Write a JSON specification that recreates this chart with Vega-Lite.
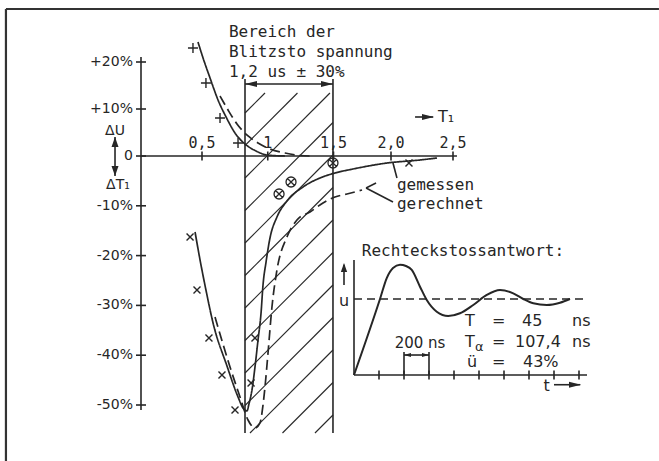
{
  "$schema": "https://vega.github.io/schema/vega-lite/v6.json",
  "width": 659,
  "height": 461,
  "padding": 0,
  "autosize": {"type": "none"},
  "background": "white",
  "config": {"view": {"stroke": null}},
  "datasets": {
    "frame": [
      {"x": -1.107, "y": 31.28, "x2": 4.161, "y2": 31.28},
      {"x": -1.107, "y": 31.28, "x2": -1.107, "y2": -61.24}
    ],
    "rulesMain": [
      {"x": 0, "y": 0, "x2": 2.532, "y2": 0},
      {"x": 0, "y": 21.06, "x2": 0, "y2": -51.0},
      {"x": 0.827, "y": 16.38, "x2": 0.827, "y2": -55.62},
      {"x": 1.496, "y": 16.38, "x2": 1.496, "y2": -55.62},
      {"x": 0.827, "y": 15.32, "x2": 1.496, "y2": 15.32},
      {"x": -0.213, "y": 4.04, "x2": -0.213, "y2": -4.02},
      {"x": 2.194, "y": 8.3, "x2": 2.34, "y2": 8.3},
      {"x": 2.016, "y": -1.41, "x2": 2.048, "y2": -4.42},
      {"x": 1.783, "y": -6.43, "x2": 2.016, "y2": -9.24},
      {"x": 1.783, "y": -6.43, "x2": 1.87, "y2": -5.42}
    ],
    "hatch": [
      {"x": 0.827, "y": 9.15, "x2": 0.979, "y2": 13.4},
      {"x": 0.827, "y": 2.23, "x2": 1.226, "y2": 13.4},
      {"x": 0.827, "y": -4.42, "x2": 1.473, "y2": 13.4},
      {"x": 0.827, "y": -10.94, "x2": 1.496, "y2": 7.13},
      {"x": 0.827, "y": -17.47, "x2": 1.496, "y2": 0.21},
      {"x": 0.827, "y": -24.0, "x2": 1.496, "y2": -6.33},
      {"x": 0.827, "y": -30.52, "x2": 1.496, "y2": -12.85},
      {"x": 0.827, "y": -37.05, "x2": 1.496, "y2": -19.38},
      {"x": 0.827, "y": -43.57, "x2": 1.496, "y2": -25.9},
      {"x": 0.827, "y": -50.1, "x2": 1.496, "y2": -32.43},
      {"x": 0.865, "y": -55.62, "x2": 1.496, "y2": -38.96},
      {"x": 1.112, "y": -55.62, "x2": 1.496, "y2": -45.48},
      {"x": 1.359, "y": -55.62, "x2": 1.496, "y2": -52.01}
    ],
    "yTicks": [
      {"x": 0, "y": 20}, {"x": 0, "y": 10}, {"x": 0, "y": 0}, {"x": 0, "y": -10},
      {"x": 0, "y": -20}, {"x": 0, "y": -30}, {"x": 0, "y": -40}, {"x": 0, "y": -50}
    ],
    "xTicks": [
      {"x": 0.5, "y": 0}, {"x": 1.0, "y": 0}, {"x": 1.5, "y": 0}, {"x": 2.0, "y": 0}, {"x": 2.5, "y": 0}
    ],
    "yLabels": [
      {"x": -0.066, "y": 20, "label": "+20%"},
      {"x": -0.066, "y": 10, "label": "+10%"},
      {"x": -0.066, "y": 0, "label": "0"},
      {"x": -0.066, "y": -10, "label": "-10%"},
      {"x": -0.066, "y": -20, "label": "-20%"},
      {"x": -0.066, "y": -30, "label": "-30%"},
      {"x": -0.066, "y": -40, "label": "-40%"},
      {"x": -0.066, "y": -50, "label": "-50%"}
    ],
    "xLabels": [
      {"x": 0.5, "y": 1.6, "label": "0,5"},
      {"x": 1.0, "y": 1.6, "label": "1"},
      {"x": 1.5, "y": 1.6, "label": "1,5"},
      {"x": 2.0, "y": 1.6, "label": "2,0"},
      {"x": 2.5, "y": 1.6, "label": "2,5"}
    ],
    "axisNames": [
      {"x": -0.213, "y": 5.32, "label": "ΔU"},
      {"x": -0.189, "y": -5.82, "label": "ΔT₁"}
    ],
    "monoText": [
      {"x": 0.705, "y": 25.32, "label": "Bereich der"},
      {"x": 0.705, "y": 21.06, "label": "Blitzsto spannung"},
      {"x": 0.705, "y": 16.81, "label": "1,2 us ± 30%"},
      {"x": 2.048, "y": -6.83, "label": "gemessen"},
      {"x": 2.048, "y": -10.64, "label": "gerechnet"}
    ],
    "t1Label": [{"x": 2.379, "y": 8.3, "label": "T₁"}],
    "arrUpMain": [{"x": -0.213, "y": 4.04}],
    "arrDownMain": [{"x": -0.213, "y": -4.02}],
    "arrLeftMain": [{"x": 0.827, "y": 15.32}],
    "arrRightMain": [{"x": 1.496, "y": 15.32}, {"x": 2.347, "y": 8.3}],
    "curves": [
      {"x": 0.467, "y": 24.26, "series": "gemessen", "quantity": "ΔU"},
      {"x": 0.508, "y": 20.85, "series": "gemessen", "quantity": "ΔU"},
      {"x": 0.561, "y": 16.6, "series": "gemessen", "quantity": "ΔU"},
      {"x": 0.622, "y": 11.91, "series": "gemessen", "quantity": "ΔU"},
      {"x": 0.683, "y": 8.3, "series": "gemessen", "quantity": "ΔU"},
      {"x": 0.751, "y": 4.89, "series": "gemessen", "quantity": "ΔU"},
      {"x": 0.827, "y": 2.55, "series": "gemessen", "quantity": "ΔU"},
      {"x": 0.911, "y": 1.06, "series": "gemessen", "quantity": "ΔU"},
      {"x": 0.994, "y": 0.21, "series": "gemessen", "quantity": "ΔU"},
      {"x": 1.131, "y": 0, "series": "gemessen", "quantity": "ΔU"},
      {"x": 0.637, "y": 12.77, "series": "gerechnet", "quantity": "ΔU"},
      {"x": 0.698, "y": 9.79, "series": "gerechnet", "quantity": "ΔU"},
      {"x": 0.766, "y": 6.81, "series": "gerechnet", "quantity": "ΔU"},
      {"x": 0.85, "y": 4.26, "series": "gerechnet", "quantity": "ΔU"},
      {"x": 0.926, "y": 2.77, "series": "gerechnet", "quantity": "ΔU"},
      {"x": 1.017, "y": 1.49, "series": "gerechnet", "quantity": "ΔU"},
      {"x": 1.131, "y": 0.64, "series": "gerechnet", "quantity": "ΔU"},
      {"x": 1.245, "y": 0.11, "series": "gerechnet", "quantity": "ΔU"},
      {"x": 1.321, "y": 0, "series": "gerechnet", "quantity": "ΔU"},
      {"x": 0.443, "y": -15.26, "series": "gemessen", "quantity": "ΔT1"},
      {"x": 0.484, "y": -20.88, "series": "gemessen", "quantity": "ΔT1"},
      {"x": 0.53, "y": -26.91, "series": "gemessen", "quantity": "ΔT1"},
      {"x": 0.584, "y": -33.53, "series": "gemessen", "quantity": "ΔT1"},
      {"x": 0.69, "y": -42.17, "series": "gemessen", "quantity": "ΔT1"},
      {"x": 0.774, "y": -48.39, "series": "gemessen", "quantity": "ΔT1"},
      {"x": 0.812, "y": -50.6, "series": "gemessen", "quantity": "ΔT1"},
      {"x": 0.842, "y": -51.2, "series": "gemessen", "quantity": "ΔT1"},
      {"x": 0.857, "y": -49.8, "series": "gemessen", "quantity": "ΔT1"},
      {"x": 0.88, "y": -46.99, "series": "gemessen", "quantity": "ΔT1"},
      {"x": 0.903, "y": -42.37, "series": "gemessen", "quantity": "ΔT1"},
      {"x": 0.926, "y": -36.95, "series": "gemessen", "quantity": "ΔT1"},
      {"x": 0.949, "y": -31.53, "series": "gemessen", "quantity": "ΔT1"},
      {"x": 0.964, "y": -25.9, "series": "gemessen", "quantity": "ΔT1"},
      {"x": 0.987, "y": -21.29, "series": "gemessen", "quantity": "ΔT1"},
      {"x": 1.017, "y": -16.47, "series": "gemessen", "quantity": "ΔT1"},
      {"x": 1.07, "y": -12.25, "series": "gemessen", "quantity": "ΔT1"},
      {"x": 1.146, "y": -9.04, "series": "gemessen", "quantity": "ΔT1"},
      {"x": 1.268, "y": -6.22, "series": "gemessen", "quantity": "ΔT1"},
      {"x": 1.397, "y": -4.42, "series": "gemessen", "quantity": "ΔT1"},
      {"x": 1.513, "y": -3.41, "series": "gemessen", "quantity": "ΔT1"},
      {"x": 1.67, "y": -2.61, "series": "gemessen", "quantity": "ΔT1"},
      {"x": 1.965, "y": -1.41, "series": "gemessen", "quantity": "ΔT1"},
      {"x": 2.234, "y": -0.8, "series": "gemessen", "quantity": "ΔT1"},
      {"x": 2.371, "y": -0.4, "series": "gemessen", "quantity": "ΔT1"},
      {"x": 0.599, "y": -32.33, "series": "gerechnet", "quantity": "ΔT1"},
      {"x": 0.713, "y": -42.37, "series": "gerechnet", "quantity": "ΔT1"},
      {"x": 0.789, "y": -48.39, "series": "gerechnet", "quantity": "ΔT1"},
      {"x": 0.85, "y": -53.01, "series": "gerechnet", "quantity": "ΔT1"},
      {"x": 0.903, "y": -54.62, "series": "gerechnet", "quantity": "ΔT1"},
      {"x": 0.941, "y": -53.61, "series": "gerechnet", "quantity": "ΔT1"},
      {"x": 0.964, "y": -50.0, "series": "gerechnet", "quantity": "ΔT1"},
      {"x": 0.979, "y": -46.39, "series": "gerechnet", "quantity": "ΔT1"},
      {"x": 1.002, "y": -39.56, "series": "gerechnet", "quantity": "ΔT1"},
      {"x": 1.032, "y": -30.32, "series": "gerechnet", "quantity": "ΔT1"},
      {"x": 1.07, "y": -22.89, "series": "gerechnet", "quantity": "ΔT1"},
      {"x": 1.146, "y": -16.27, "series": "gerechnet", "quantity": "ΔT1"},
      {"x": 1.222, "y": -12.85, "series": "gerechnet", "quantity": "ΔT1"},
      {"x": 1.321, "y": -11.24, "series": "gerechnet", "quantity": "ΔT1"},
      {"x": 1.42, "y": -9.44, "series": "gerechnet", "quantity": "ΔT1"},
      {"x": 1.513, "y": -8.23, "series": "gerechnet", "quantity": "ΔT1"},
      {"x": 1.617, "y": -7.63, "series": "gerechnet", "quantity": "ΔT1"},
      {"x": 1.748, "y": -6.83, "series": "gerechnet", "quantity": "ΔT1"}
    ],
    "plusPts": [
      {"x": 0.426, "y": 22.98}, {"x": 0.53, "y": 15.53}, {"x": 0.637, "y": 8.09}, {"x": 0.774, "y": 2.77}
    ],
    "xPts": [
      {"x": 0.402, "y": -16.27}, {"x": 0.459, "y": -26.91}, {"x": 0.553, "y": -36.55}, {"x": 0.652, "y": -43.98},
      {"x": 0.751, "y": -51.0}, {"x": 0.873, "y": -45.58}, {"x": 0.903, "y": -36.55}, {"x": 2.145, "y": -1.41}
    ],
    "otimesPts": [
      {"x": 1.086, "y": -7.63}, {"x": 1.177, "y": -5.22}, {"x": 1.496, "y": -1.41}
    ],
    "rulesInset": [
      {"x": 0, "y": 0, "x2": 0, "y2": 1.513},
      {"x": 0, "y": 0, "x2": 1864, "y2": 0},
      {"x": 1600, "y": -0.128, "x2": 1810, "y2": -0.128},
      {"x": -80, "y": 1.184, "x2": -80, "y2": 1.45},
      {"x": 400, "y": 0, "x2": 400, "y2": 0.303},
      {"x": 600, "y": 0, "x2": 600, "y2": 0.303},
      {"x": 400, "y": 0.263, "x2": 600, "y2": 0.263}
    ],
    "levelInset": [{"x": 0, "y": 1, "x2": 1872, "y2": 1}],
    "ticksInset": [
      {"x": 200, "y": 0}, {"x": 400, "y": 0}, {"x": 600, "y": 0}, {"x": 800, "y": 0}, {"x": 1000, "y": 0},
      {"x": 1200, "y": 0}, {"x": 1400, "y": 0}, {"x": 1600, "y": 0}, {"x": 1800, "y": 0}
    ],
    "response": [
      {"x": 0, "y": 0}, {"x": 208, "y": 1.0}, {"x": 262, "y": 1.276}, {"x": 312, "y": 1.408},
      {"x": 368, "y": 1.452}, {"x": 416, "y": 1.434}, {"x": 462, "y": 1.382}, {"x": 528, "y": 1.162},
      {"x": 582, "y": 0.987}, {"x": 662, "y": 0.833}, {"x": 754, "y": 0.776}, {"x": 848, "y": 0.812},
      {"x": 954, "y": 0.921}, {"x": 1062, "y": 1.053}, {"x": 1168, "y": 1.118}, {"x": 1274, "y": 1.075},
      {"x": 1354, "y": 1.0}, {"x": 1434, "y": 0.943}, {"x": 1542, "y": 0.921}, {"x": 1648, "y": 0.951},
      {"x": 1728, "y": 1.0}
    ],
    "insetTitle": [{"x": 62, "y": 1.566, "label": "Rechteckstossantwort:"}],
    "insetParams": [
      {"x": 888, "y": 0.645, "label": "T"},
      {"x": 1104, "y": 0.645, "label": "="},
      {"x": 1344, "y": 0.645, "label": "45"},
      {"x": 1744, "y": 0.645, "label": "ns"},
      {"x": 888, "y": 0.364, "label": "T"},
      {"x": 1104, "y": 0.364, "label": "="},
      {"x": 1288, "y": 0.364, "label": "107,4"},
      {"x": 1744, "y": 0.364, "label": "ns"},
      {"x": 904, "y": 0.109, "label": "ü"},
      {"x": 1104, "y": 0.109, "label": "="},
      {"x": 1352, "y": 0.109, "label": "43%"}
    ],
    "insetAlpha": [{"x": 968, "y": 0.32, "label": "α"}],
    "insetCentered": [
      {"x": -80, "y": 0.974, "label": "u"},
      {"x": 1541, "y": -0.145, "label": "t"}
    ],
    "insetSpan": [{"x": 528, "y": 0.421, "label": "200 ns"}],
    "arrUpInset": [{"x": -80, "y": 1.474}],
    "arrRightInset": [{"x": 1816, "y": -0.128}],
    "arrSmallLeft": [{"x": 400, "y": 0.263}],
    "arrSmallRight": [{"x": 600, "y": 0.263}]
  },
  "resolve": {"scale": {"x": "independent", "y": "independent"}},
  "layer": [
    {
      "encoding": {
        "x": {"field": "x", "type": "quantitative", "axis": null,
              "scale": {"domain": [0, 0.5, 1.5, 2, 2.5], "range": [141, 202, 333.5, 391, 453], "nice": false, "zero": false}},
        "y": {"field": "y", "type": "quantitative", "axis": null,
              "scale": {"domain": [-50, 0, 20], "range": [405, 156, 62], "nice": false, "zero": false}}
      },
      "layer": [
        {"data": {"name": "frame"}, "mark": {"type": "rule", "color": "#333333", "strokeWidth": 2.2},
         "encoding": {"x2": {"field": "x2"}, "y2": {"field": "y2"}}},
        {"data": {"name": "hatch"}, "mark": {"type": "rule", "color": "#2a2a2a", "strokeWidth": 1.2},
         "encoding": {"x2": {"field": "x2"}, "y2": {"field": "y2"}}},
        {"data": {"name": "rulesMain"}, "mark": {"type": "rule", "color": "#262626", "strokeWidth": 1.6},
         "encoding": {"x2": {"field": "x2"}, "y2": {"field": "y2"}}},
        {"data": {"name": "yTicks"}, "mark": {"type": "point", "shape": "M-1,0L1,0", "size": 100, "filled": false, "color": "#262626", "strokeWidth": 1.6, "opacity": 1}},
        {"data": {"name": "xTicks"}, "mark": {"type": "point", "shape": "M0,-1L0,1", "size": 81, "filled": false, "color": "#262626", "strokeWidth": 1.6, "opacity": 1}},
        {"data": {"name": "curves"}, "mark": {"type": "line", "interpolate": "monotone", "strokeWidth": 1.7, "color": "#262626"},
         "encoding": {
           "strokeDash": {"field": "series", "type": "nominal", "legend": null,
                          "scale": {"domain": ["gemessen", "gerechnet"], "range": [[1, 0], [10, 5]]}},
           "detail": {"field": "quantity"}
         }},
        {"data": {"name": "plusPts"}, "mark": {"type": "point", "shape": "M-1,0L1,0M0,-1L0,1", "size": 100, "filled": false, "color": "#262626", "strokeWidth": 1.4, "opacity": 1}},
        {"data": {"name": "xPts"}, "mark": {"type": "point", "shape": "M-1,-1L1,1M-1,1L1,-1", "size": 49, "filled": false, "color": "#262626", "strokeWidth": 1.4, "opacity": 1}},
        {"data": {"name": "otimesPts"}, "mark": {"type": "point", "shape": "M-1,0A1,1 0 1,1 1,0A1,1 0 1,1 -1,0ZM-0.7,-0.7L0.7,0.7M-0.7,0.7L0.7,-0.7", "size": 100, "filled": false, "color": "#262626", "strokeWidth": 1.3, "opacity": 1}},
        {"data": {"name": "arrUpMain"}, "mark": {"type": "point", "shape": "M0,0L-0.7,2L0.7,2Z", "size": 100, "filled": true, "color": "#262626", "opacity": 1}},
        {"data": {"name": "arrDownMain"}, "mark": {"type": "point", "shape": "M0,0L-0.7,-2L0.7,-2Z", "size": 100, "filled": true, "color": "#262626", "opacity": 1}},
        {"data": {"name": "arrLeftMain"}, "mark": {"type": "point", "shape": "M0,0L2,-0.5L2,0.5Z", "size": 144, "filled": true, "color": "#262626", "opacity": 1}},
        {"data": {"name": "arrRightMain"}, "mark": {"type": "point", "shape": "M0,0L-2,-0.5L-2,0.5Z", "size": 144, "filled": true, "color": "#262626", "opacity": 1}},
        {"data": {"name": "yLabels"}, "mark": {"type": "text", "font": "DejaVu Sans", "fontSize": 14, "align": "right", "baseline": "middle", "color": "#262626"},
         "encoding": {"text": {"field": "label"}}},
        {"data": {"name": "axisNames"}, "mark": {"type": "text", "font": "DejaVu Sans", "fontSize": 14, "align": "center", "baseline": "middle", "color": "#262626"},
         "encoding": {"text": {"field": "label"}}},
        {"data": {"name": "xLabels"}, "mark": {"type": "text", "font": "DejaVu Sans Mono", "fontSize": 15, "align": "center", "baseline": "alphabetic", "color": "#262626"},
         "encoding": {"text": {"field": "label"}}},
        {"data": {"name": "monoText"}, "mark": {"type": "text", "font": "DejaVu Sans Mono", "fontSize": 16, "align": "left", "baseline": "alphabetic", "color": "#262626"},
         "encoding": {"text": {"field": "label"}}},
        {"data": {"name": "t1Label"}, "mark": {"type": "text", "font": "DejaVu Sans", "fontSize": 16, "align": "left", "baseline": "middle", "color": "#262626"},
         "encoding": {"text": {"field": "label"}}}
      ]
    },
    {
      "encoding": {
        "x": {"field": "x", "type": "quantitative", "axis": null,
              "scale": {"domain": [0, 1000], "range": [354, 479], "nice": false, "zero": false}},
        "y": {"field": "y", "type": "quantitative", "axis": null,
              "scale": {"domain": [0, 1], "range": [375, 299], "nice": false, "zero": false}}
      },
      "layer": [
        {"data": {"name": "levelInset"}, "mark": {"type": "rule", "color": "#262626", "strokeWidth": 1.5, "strokeDash": [8, 5]},
         "encoding": {"x2": {"field": "x2"}, "y2": {"field": "y2"}}},
        {"data": {"name": "rulesInset"}, "mark": {"type": "rule", "color": "#262626", "strokeWidth": 1.6},
         "encoding": {"x2": {"field": "x2"}, "y2": {"field": "y2"}}},
        {"data": {"name": "ticksInset"}, "mark": {"type": "point", "shape": "M0,-1L0,1", "size": 81, "filled": false, "color": "#262626", "strokeWidth": 1.6, "opacity": 1}},
        {"data": {"name": "response"}, "mark": {"type": "line", "interpolate": "monotone", "strokeWidth": 2, "color": "#262626"}},
        {"data": {"name": "arrUpInset"}, "mark": {"type": "point", "shape": "M0,0L-0.7,2L0.7,2Z", "size": 81, "filled": true, "color": "#262626", "opacity": 1}},
        {"data": {"name": "arrRightInset"}, "mark": {"type": "point", "shape": "M0,0L-2,-0.5L-2,0.5Z", "size": 144, "filled": true, "color": "#262626", "opacity": 1}},
        {"data": {"name": "arrSmallLeft"}, "mark": {"type": "point", "shape": "M0,0L2,-0.6L2,0.6Z", "size": 49, "filled": true, "color": "#262626", "opacity": 1}},
        {"data": {"name": "arrSmallRight"}, "mark": {"type": "point", "shape": "M0,0L-2,-0.6L-2,0.6Z", "size": 49, "filled": true, "color": "#262626", "opacity": 1}},
        {"data": {"name": "insetTitle"}, "mark": {"type": "text", "font": "DejaVu Sans Mono", "fontSize": 16, "align": "left", "baseline": "alphabetic", "color": "#262626"},
         "encoding": {"text": {"field": "label"}}},
        {"data": {"name": "insetParams"}, "mark": {"type": "text", "font": "DejaVu Sans", "fontSize": 16, "align": "left", "baseline": "alphabetic", "color": "#262626"},
         "encoding": {"text": {"field": "label"}}},
        {"data": {"name": "insetAlpha"}, "mark": {"type": "text", "font": "DejaVu Sans", "fontSize": 13, "align": "left", "baseline": "alphabetic", "color": "#262626"},
         "encoding": {"text": {"field": "label"}}},
        {"data": {"name": "insetCentered"}, "mark": {"type": "text", "font": "DejaVu Sans", "fontSize": 16, "align": "center", "baseline": "middle", "color": "#262626"},
         "encoding": {"text": {"field": "label"}}},
        {"data": {"name": "insetSpan"}, "mark": {"type": "text", "font": "DejaVu Sans", "fontSize": 15, "align": "center", "baseline": "middle", "color": "#262626"},
         "encoding": {"text": {"field": "label"}}}
      ]
    }
  ]
}
